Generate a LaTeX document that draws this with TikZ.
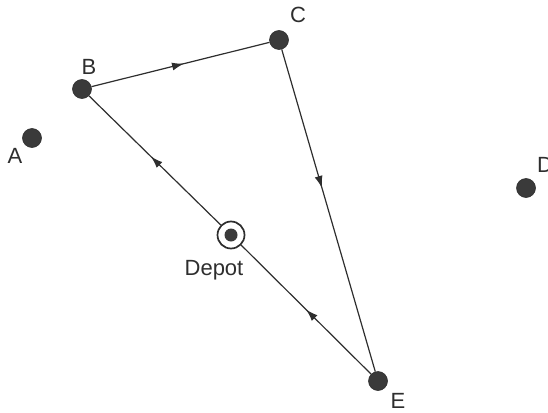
\documentclass[tikz,border=0pt]{standalone}
\usepackage{fontspec}
\setmainfont{Liberation Sans}
\usetikzlibrary{decorations.markings,arrows.meta}
\definecolor{ink}{HTML}{2E2E2E}
\definecolor{dotc}{HTML}{3A3A3A}
\tikzset{
  city/.style={circle,fill=dotc,draw=ink,line width=0.6pt,minimum size=19pt,inner sep=0pt},
  lbl/.style={font=\fontsize{22}{26}\selectfont,text=ink,inner sep=0pt},
  route/.style={draw=ink,line width=1.2pt,postaction={decorate},
    decoration={markings,mark=at position #1 with {\arrow{Latex[length=12pt,width=8pt]}}}},
}
\begin{document}
\begin{tikzpicture}[x=1pt,y=-1pt]
\useasboundingbox (0,0) rectangle (548,412);
\node[city] (A) at (32,138) {};
\node[city] (B) at (82,89) {};
\node[city] (C) at (279,40) {};
\node[city] (D) at (526,188) {};
\node[city] (E) at (378,381) {};
\node[circle,draw=ink,line width=1.7pt,minimum size=27pt,inner sep=0pt,fill=white] (Dep) at (231,235) {};
\node[circle,fill=dotc,minimum size=13pt,inner sep=0pt] (Depin) at (231,235) {};
\node[lbl] (lA) at (15,156) {A};
\node[lbl] (lB) at (89,67) {B};
\node[lbl] (lC) at (298,15) {C};
\node[lbl,anchor=west] (lD) at (537,165) {D};
\node[lbl] (lE) at (398,401) {E};
\node[lbl] (lDep) at (214,270) {Depot};
\path[route=0.52] (B) -- (C);
\path[route=0.43] (C) -- (E);
\path[route=0.5] (E) -- (Dep);
\path[route=0.53] (Dep) -- (B);
\end{tikzpicture}
\end{document}
